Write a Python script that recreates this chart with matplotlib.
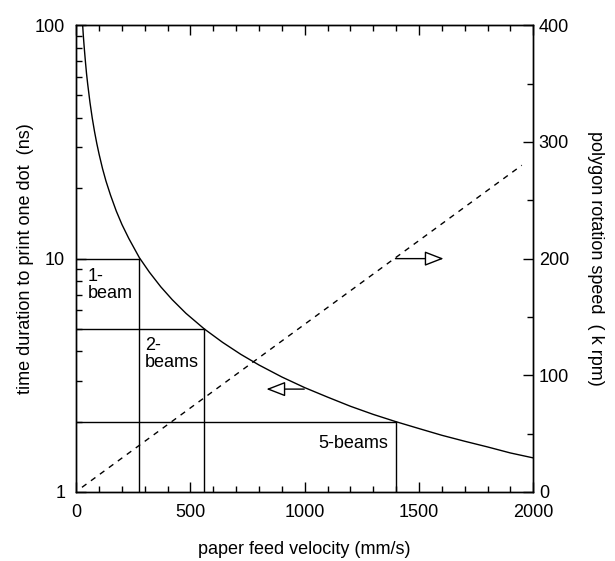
import matplotlib.pyplot as plt
from matplotlib.ticker import FixedLocator, NullFormatter

plt.rcParams["font.family"] = ["Liberation Sans", "DejaVu Sans"]
plt.rcParams["font.size"] = 13

# solid curve: time to print one dot (ns) vs paper feed velocity (mm/s)
velocity = [28, 31, 35, 40, 45, 50, 60, 70, 80, 90, 100, 115, 130, 150, 175,
            200, 230, 276, 320, 370, 420, 480, 560, 640, 720, 800, 900, 1000,
            1100, 1200, 1300, 1400, 1500, 1600, 1700, 1800, 1900, 2000]
dot_time = [100, 90, 80, 70, 62, 56, 46.7, 40, 35, 31.1, 28, 24.3, 21.5, 18.7,
            16, 14, 12.2, 10.1, 8.75, 7.57, 6.67, 5.83, 5.0, 4.38, 3.89, 3.5,
            3.11, 2.8, 2.55, 2.33, 2.15, 2.0, 1.87, 1.75, 1.65, 1.56, 1.47, 1.4]

# dashed line: polygon rotation speed (k rpm)
rot_velocity = [25, 1950]
rot_speed = [4, 280]

# beam markers: (velocity, time, label)
beam_v = [276, 560, 1400]
beam_t = [10, 5, 2]
beam_labels = ["1-\nbeam", "2-\nbeams", "5-beams"]
beam_label_xy = [(50, 9.1), (300, 4.6), (1060, 1.75)]


def main():
    fig = plt.figure(figsize=(6.15, 5.61), dpi=100)
    ax = fig.add_axes([0.124, 0.123, 0.743, 0.832])
    ax2 = ax.twinx()

    ax.plot(velocity, dot_time, color="black", lw=1.0)
    for v, t in zip(beam_v, beam_t):
        ax.plot([0, v], [t, t], color="black", lw=1.0)
        ax.plot([v, v], [1, t], color="black", lw=1.0)
    for lab, (x, y) in zip(beam_labels, beam_label_xy):
        ax.text(x, y, lab, fontsize=13, va="top", ha="left", linespacing=1.0)

    ax.set_yscale("log")
    ax.set_xlim(0, 2000)
    ax.set_ylim(1, 100)
    ax.set_xticks([0, 500, 1000, 1500, 2000])
    ax.set_xticks(range(0, 2001, 100), minor=True)
    ax.set_yticks([1, 10, 100])
    ax.set_yticklabels(["1", "10", "100"])
    ax.yaxis.set_minor_locator(FixedLocator([m * d for d in (1, 10) for m in range(2, 10)]))
    ax.yaxis.set_minor_formatter(NullFormatter())
    ax.tick_params(axis="x", which="both", direction="in", top=True, pad=9)
    ax.tick_params(axis="y", which="both", direction="in", pad=8)
    ax.tick_params(which="major", length=7, width=1)
    ax.tick_params(which="minor", length=4, width=1)
    ax.set_xlabel("paper feed velocity (mm/s)", labelpad=14)
    ax.set_ylabel("time duration to print one dot  (ns)", labelpad=1)

    ax2.plot(rot_velocity, rot_speed, color="black", lw=1.0, ls=(0, (4, 4)))
    ax2.set_ylim(0, 400)
    ax2.set_yticks([0, 100, 200, 300, 400])
    ax2.set_yticks(range(0, 401, 50), minor=True)
    ax2.tick_params(axis="y", which="both", direction="in", pad=4)
    ax2.tick_params(which="major", length=7, width=1)
    ax2.tick_params(which="minor", length=4, width=1)
    ax2.set_ylabel("polygon rotation speed  ( k rpm)", rotation=270, labelpad=25)

    arrow = dict(arrowstyle="-|>,head_length=0.9,head_width=0.35", fc="white", ec="black", lw=1.0)
    ax2.annotate("", xy=(1620, 200), xytext=(1385, 200), arrowprops=arrow)
    ax.annotate("", xy=(820, 2.76), xytext=(1010, 2.76), arrowprops=arrow)

    for a in (ax, ax2):
        for s in a.spines.values():
            s.set_linewidth(1.0)

    fig.savefig("out.png", dpi=100)


if __name__ == "__main__":
    main()
